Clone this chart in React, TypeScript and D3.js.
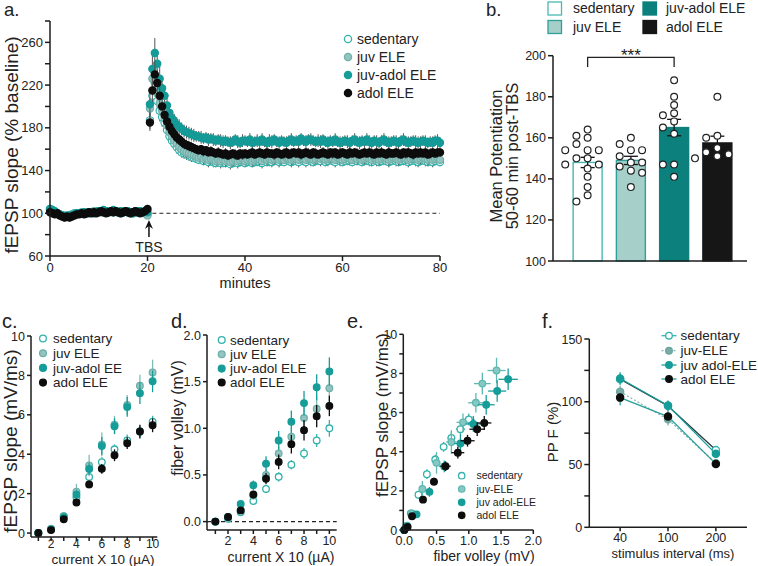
import React from 'react';
import * as d3 from 'd3';

const FONT = '"Liberation Sans", Arial, Helvetica, sans-serif';
const AX = '#1c1c1c';

// ---------------- panel a : LTP time course ----------------
const timesBase = d3.range(0, 20.001, 0.5);
const timesPost = d3.range(20.5, 80.001, 0.5);
const timesA = [...timesBase, ...timesPost];

const sedBase = [103,102,101,100,99,98,97,98,98,99, 100,99,100,100,101,100,100,101,101,102, 102,101,102,102,101,102,101,102,101,102, 101,102,101,100,101,102,101,102,101,100, 99];
const juvBase = [104,103,101,100,99,98,98,97,98,99, 99,100,100,101,100,101,100,101,102,101, 102,102,101,102,101,102,101,102,101,100, 101,102,101,101,100,101,102,101,101,100, 98];
const jaBase = [104,103,102,100,99,98,97,97,98,98, 99,100,100,100,101,100,101,101,100,101, 102,102,103,102,101,102,103,102,101,102, 101,102,102,101,100,101,102,102,101,102, 101];
const adolBase = [101,100,99,100,98,97,96,97,96,97, 98,99,99,100,99,100,101,100,101,100, 101,102,101,100,101,102,101,102,101,100, 101,102,101,100,101,102,101,100,101,102, 104];

const sedPost = [187,210,222,205,196,190,185,178,172,168, 165,162,159,157,156,155,154,153,152,151, 150,151,149,150,148,149,148,147,148,147, 148,147,148,146,147,148,147,148,149,147, 148,149,147,148,149,148,147,149,148,149, 148,149,150,148,149,148,150,149,148,149, 149,148,150,149,148,150,149,148,149,150, 149,150,148,149,150,149,148,150,149,148, 149,150,149,148,150,149,150,148,149,150, 149,148,150,149,148,149,150,149,148,149, 150,149,148,149,150,149,148,149,150,149, 148,149,150,149,148,149,148,149,150,148];
const juvPost = [198,226,228,212,203,196,189,182,176,172, 168,165,162,160,158,157,156,155,154,153, 152,153,151,152,150,151,150,149,150,149, 150,149,150,148,149,150,149,150,151,149, 150,151,149,150,151,150,149,151,150,151, 150,151,152,150,151,150,152,151,150,151, 151,150,152,151,150,152,151,150,151,152, 151,152,150,151,152,151,150,152,151,150, 151,152,151,150,152,151,152,150,151,152, 151,150,152,151,150,151,152,151,150,151, 152,151,150,151,152,151,150,151,152,151, 150,151,152,151,150,151,150,151,152,150];
const jaPost = [202,235,250,240,226,217,210,201,194,189, 186,183,181,179,177,176,175,174,173,172, 172,171,170,171,169,170,169,168,169,168, 167,168,167,166,167,169,167,166,168,168, 167,169,166,167,168,167,169,167,166,168, 167,169,167,166,168,167,166,168,169,167, 168,167,170,168,167,169,169,168,167,168, 167,169,167,166,168,167,169,167,166,167, 168,167,166,168,169,167,166,168,167,169, 167,166,168,167,166,168,169,167,166,167, 168,167,166,168,169,167,166,167,168,167, 166,167,168,167,166,167,166,168,168,166];
const adolPost = [185,215,230,222,210,200,192,186,181,177, 174,171,169,167,165,164,163,162,161,160, 159,160,158,159,157,158,157,156,157,156, 155,156,154,155,156,155,154,156,155,156, 155,156,157,155,156,157,156,155,157,156, 156,155,157,156,155,156,157,155,156,157, 156,157,155,156,157,156,155,157,156,155, 156,157,156,155,157,156,157,155,156,157, 156,155,157,156,157,156,155,156,157,156, 157,156,155,157,156,157,156,155,157,156, 156,157,156,155,157,156,157,156,155,157, 156,157,156,157,155,156,157,156,157,157];

const semBaseA = [2,2,3,2,2,2,3,2,2,2, 3,2,2,2,2,3,2,2,2,3, 2,2,2,3,2,2,2,2,3,2, 2,2,3,2,2,2,2,3,2,2, 3];
const semPostSed = [8,12,14,12,10,9,8,7,7,6, 6,6,5,5,5,5,5,5,4,4, 4,5,4,4,5,4,5,4,4,5, 5,4,4,5,4,4,5,4,5,4, 4,5,4,4,5,4,5,4,4,5, 5,4,4,5,4,4,5,4,5,4, 4,5,4,4,5,4,5,4,4,5, 5,4,4,5,4,4,5,4,5,4, 4,5,4,4,5,4,5,4,4,5, 5,4,4,5,4,4,5,4,5,4, 4,5,4,4,5,4,5,4,4,5, 5,4,4,5,4,4,5,4,5,4];
const semPostJuv = [9,11,13,12,10,9,8,7,7,6, 6,5,5,5,5,5,4,4,4,4, 4,4,5,4,4,5,4,4,5,4, 4,5,4,4,5,4,4,4,5,4, 4,4,5,4,4,5,4,4,5,4, 4,5,4,4,5,4,4,4,5,4, 4,4,5,4,4,5,4,4,5,4, 4,5,4,4,5,4,4,4,5,4, 4,4,5,4,4,5,4,4,5,4, 4,5,4,4,5,4,4,4,5,4, 4,4,5,4,4,5,4,4,5,4, 4,5,4,4,5,4,4,4,5,4];
const semPostJa = [10,13,14,13,12,11,10,9,8,8, 7,7,7,6,6,6,6,6,6,5, 5,6,5,5,6,5,6,5,5,6, 6,5,5,6,5,5,6,5,6,5, 5,6,5,5,6,5,6,5,5,6, 6,5,5,6,5,5,6,5,6,5, 5,6,5,5,6,5,6,5,5,6, 6,5,5,6,5,5,6,5,6,5, 5,6,5,5,6,5,6,5,5,6, 6,5,5,6,5,5,6,5,6,5, 5,6,5,5,6,5,6,5,5,6, 6,5,5,6,5,5,6,5,6,5];
const semPostAdol = [8,11,13,12,10,9,8,7,7,6, 6,6,5,5,5,5,5,5,4,4, 4,4,5,4,4,5,4,4,5,4, 4,5,4,4,4,5,4,4,5,4, 4,4,5,4,4,5,4,4,5,4, 4,5,4,4,4,5,4,4,5,4, 4,4,5,4,4,5,4,4,5,4, 4,5,4,4,4,5,4,4,5,4, 4,4,5,4,4,5,4,4,5,4, 4,5,4,4,4,5,4,4,5,4, 4,4,5,4,4,5,4,4,5,4, 4,5,4,4,4,5,4,4,5,4];

const yTicksA = [60, 100, 140, 180, 220, 260];
const yMinorA = [80, 120, 160, 200, 240, 280];
const xTicksA = [0, 20, 40, 60, 80];

// ---------------- panel b : bar chart ----------------
const barGroups = ['sedentary', 'juv ELE', 'juv-adol ELE', 'adol ELE'];
const barMeans = [148, 149, 165, 157.5];
const barSems = [2.5, 2, 4, 3.3];
const ptsSed = [164, 161, 160, 157, 154, 154, 154, 150, 150, 147, 147, 145, 141, 136, 132, 129];
const ptsJuv = [160, 157, 154, 154, 151, 148, 148, 146, 144, 143, 136];
const ptsJa = [188, 180, 176, 172, 171, 168, 165, 162, 147, 147, 141];
const ptsAdol = [180, 161, 160, 155, 153, 152, 151, 150];
const yTicksB = [100, 120, 140, 160, 180, 200];

// ---------------- panels c, d, e : input-output ----------------
const currents = [1, 2, 3, 4, 5, 6, 7, 8, 9, 10];
const cSed = [0, 0.2, 0.85, 1.8, 2.85, 3.6, 4.25, 4.7, 5.15, 5.65];
const cJuv = [0, 0.22, 0.85, 2.1, 3.43, 4.5, 5.5, 6.5, 7.48, 8.15];
const cJa = [0, 0.18, 0.8, 1.95, 3.25, 4.42, 5.42, 6.4, 7.1, 7.7];
const cAdol = [0, 0.15, 0.7, 1.55, 2.47, 3.26, 3.95, 4.56, 5.15, 5.47];
const cSemSed = [0.02, 0.05, 0.08, 0.2, 0.25, 0.25, 0.25, 0.3, 0.3, 0.3];
const cSemJuv = [0.02, 0.05, 0.1, 0.4, 0.55, 0.6, 0.45, 0.5, 0.55, 0.65];
const cSemJa = [0.02, 0.05, 0.1, 0.25, 0.3, 0.45, 0.4, 0.5, 0.55, 0.55];
const cSemAdol = [0.02, 0.05, 0.08, 0.15, 0.2, 0.25, 0.3, 0.3, 0.35, 0.35];

const dSed = [0, 0.03, 0.1, 0.22, 0.35, 0.48, 0.61, 0.73, 0.87, 1.0];
const dJuv = [0, 0.04, 0.12, 0.28, 0.5, 0.73, 0.91, 1.11, 1.21, 1.43];
const dJa = [0, 0.05, 0.19, 0.39, 0.62, 0.87, 1.07, 1.27, 1.44, 1.61];
const dAdol = [0, 0.05, 0.12, 0.29, 0.46, 0.64, 0.83, 0.98, 1.13, 1.24];
const dSemSed = [0.005, 0.01, 0.02, 0.03, 0.04, 0.05, 0.05, 0.06, 0.07, 0.09];
const dSemJuv = [0.005, 0.01, 0.02, 0.04, 0.06, 0.08, 0.1, 0.12, 0.13, 0.14];
const dSemJa = [0.005, 0.015, 0.025, 0.05, 0.08, 0.1, 0.12, 0.13, 0.14, 0.15];
const dSemAdol = [0.005, 0.01, 0.02, 0.04, 0.06, 0.08, 0.1, 0.11, 0.12, 0.11];

const xTicksCD = [2, 4, 6, 8, 10];
const xMinorCD = [1, 3, 5, 7, 9];
const yTicksC = [0, 2, 4, 6, 8, 10];
const yTicksD = [0, 0.5, 1, 1.5, 2];
const xTicksE = [0, 0.5, 1, 1.5, 2];
const yTicksE = [0, 2, 4, 6, 8, 10];
const yMinorE = [1, 3, 5, 7, 9];

// ---------------- panel f : paired-pulse ----------------
const intervals = ['40', '100', '200'];
const fSed = [118, 96.6, 61.5];
const fJuv = [108, 86, 51];
const fJa = [118.5, 97, 58.5];
const fAdol = [103.3, 88.2, 50.5];
const fSemSed = [4, 4, 3];
const fSemJuv = [5, 5, 3];
const fSemJa = [5, 4, 3];
const fSemAdol = [6, 5, 3];
const yTicksF = [0, 50, 100, 150];
const yMinorF = [25, 75, 125];

// ---------------- styles ----------------
const S_SED = { fill: '#ffffff', stroke: '#33b2ac', err: '#33b2ac' };
const S_JUV = { fill: '#93c4bf', stroke: '#6eb0aa', err: '#7fbdb7' };
const S_JA = { fill: '#169d99', stroke: '#169d99', err: '#169d99' };
const S_ADOL = { fill: '#0d0d0d', stroke: '#0d0d0d', err: '#0d0d0d' };

// ---------------- helpers ----------------
function AxisLeft({ scale, x, ticks, minor = [], fmt = (d: number) => String(d), fs = 12.5, len = 5, y0 = null, y1 = null }: any) {
  const r = scale.range();
  const top = y0 ?? Math.min(r[0], r[1]);
  const bot = y1 ?? Math.max(r[0], r[1]);
  return (
    <g>
      <line x1={x} x2={x} y1={top} y2={bot} stroke={AX} strokeWidth={1.5} />
      {ticks.map((t: number) => (
        <g key={'t' + t}>
          <line x1={x - len} x2={x} y1={scale(t)} y2={scale(t)} stroke={AX} strokeWidth={1.5} />
          <text x={x - len - 2} y={scale(t)} dy="0.36em" textAnchor="end" fontSize={fs} fill="#222">{fmt(t)}</text>
        </g>
      ))}
      {minor.map((t: number) => (
        <line key={'m' + t} x1={x - len} x2={x} y1={scale(t)} y2={scale(t)} stroke={AX} strokeWidth={1.5} />
      ))}
    </g>
  );
}

function AxisBottom({ scale, y, ticks, minor = [], fmt = (d: any) => String(d), fs = 12.5, len = 5, x0 = null, x1 = null, labelDy = 14 }: any) {
  const r = scale.range();
  const left = x0 ?? Math.min(r[0], r[1]);
  const right = x1 ?? Math.max(r[0], r[1]);
  return (
    <g>
      <line x1={left} x2={right} y1={y} y2={y} stroke={AX} strokeWidth={1.5} />
      {ticks.map((t: any) => (
        <g key={'t' + t}>
          <line x1={scale(t)} x2={scale(t)} y1={y} y2={y + len} stroke={AX} strokeWidth={1.5} />
          <text x={scale(t)} y={y + len + labelDy} textAnchor="middle" fontSize={fs} fill="#222">{fmt(t)}</text>
        </g>
      ))}
      {minor.map((t: any) => (
        <line key={'m' + t} x1={scale(t)} x2={scale(t)} y1={y} y2={y + len} stroke={AX} strokeWidth={1.5} />
      ))}
    </g>
  );
}

function VLabel({ x, y, text, fs }: any) {
  return (
    <text transform={`translate(${x},${y}) rotate(-90)`} textAnchor="middle" fontSize={fs} fill="#222">{text}</text>
  );
}

function Legend({ x, tx, ys, names, styles, fs, r = 3.4 }: any) {
  return (
    <g>
      {names.map((n: string, i: number) => (
        <g key={n}>
          <circle cx={x} cy={ys[i]} r={r} fill={styles[i].fill} stroke={styles[i].stroke} strokeWidth={1.3} />
          <text x={tx} y={ys[i]} dy="0.35em" fontSize={fs} fill="#222">{n}</text>
        </g>
      ))}
    </g>
  );
}

// ---------------- panel a ----------------
function PanelA() {
  const xA = d3.scaleLinear().domain([0, 80]).range([50, 440]);
  const yA = d3.scaleLinear().domain([60, 280]).range([256, 21]);
  const series = [
    { v: [...sedBase, ...sedPost], e: [...semBaseA, ...semPostSed], s: S_SED },
    { v: [...juvBase, ...juvPost], e: [...semBaseA, ...semPostJuv], s: S_JUV },
    { v: [...jaBase, ...jaPost], e: [...semBaseA, ...semPostJa], s: { ...S_JA, fill: '#149a97', stroke: '#149a97' } },
    { v: [...adolBase, ...adolPost], e: [...semBaseA, ...semPostAdol], s: S_ADOL },
  ];
  return (
    <g>
      <text x={4} y={16} fontSize={18.5} fill="#222">a.</text>
      <line x1={xA(21)} x2={xA(80)} y1={yA(100)} y2={yA(100)} stroke="#222" strokeWidth={1} strokeDasharray="4,3" />
      {series.map((sr, k) => (
        <g key={k}>
          {timesA.map((t, i) => (
            <line key={i} x1={xA(t)} x2={xA(t)} y1={yA(sr.v[i] - sr.e[i])} y2={yA(sr.v[i] + sr.e[i])} stroke="#555" strokeWidth={1} />
          ))}
          {timesA.map((t, i) => (
            <circle key={'c' + i} cx={xA(t)} cy={yA(sr.v[i])} r={3.6} fill={sr.s.fill} stroke={sr.s.stroke} strokeWidth={1.2} />
          ))}
        </g>
      ))}
      <AxisLeft scale={yA} x={50} ticks={yTicksA} minor={yMinorA} fs={13} />
      <AxisBottom scale={xA} y={256} ticks={xTicksA} fs={13} labelDy={11} />
      <text x={245} y={288} textAnchor="middle" fontSize={14.5} fill="#222">minutes</text>
      <VLabel x={18} y={145} text="fEPSP  slope (% baseline)" fs={19} />
      <line x1={xA(20.3)} x2={xA(20.3)} y1={237} y2={225} stroke="#111" strokeWidth={1.5} />
      <path d={`M${xA(20.3)},220 L${xA(20.3) - 4},229 L${xA(20.3)},226 L${xA(20.3) + 4},229 Z`} fill="#111" />
      <text x={xA(20.3)} y={252} textAnchor="middle" fontSize={14} fill="#222">TBS</text>
      <Legend x={348} tx={357} ys={[39, 57, 75, 93]} names={['sedentary', 'juv ELE', 'juv-adol ELE', 'adol ELE']}
        styles={[S_SED, S_JUV, S_JA, S_ADOL]} fs={14} r={3.6} />
    </g>
  );
}

// ---------------- panel b ----------------
function swarm(vals: number[], yS: any, cx: number, r: number) {
  const placed: { x: number; y: number }[] = [];
  const sorted = [...vals].sort((a, b) => b - a);
  const step = 11.2;
  for (const v of sorted) {
    const y = yS(v);
    for (let k = 0; k < 20; k++) {
      const off = k === 0 ? 0 : (k % 2 === 1 ? -Math.ceil(k / 2) * step : Math.ceil(k / 2) * step);
      const x = cx + off;
      if (placed.every(p => Math.hypot(p.x - x, p.y - y) >= 2 * r)) { placed.push({ x, y }); break; }
    }
  }
  return placed;
}

function PanelB() {
  const xB = d3.scaleBand().domain(barGroups).range([566, 739]).paddingInner(0.33).paddingOuter(0.165);
  const yB = d3.scaleLinear().domain([100, 200]).range([261, 55.7]);
  const fills = ['#ffffff', '#a7cfc9', '#0c807c', '#161616'];
  const strokes = ['#4ab8b2', '#2f9f99', '#0c807c', '#161616'];
  const pts = [ptsSed, ptsJuv, ptsJa, ptsAdol];
  const bw = xB.bandwidth();
  const cxs = barGroups.map(g => (xB(g) as number) + bw / 2);
  const order = [0, 2, 1, 3];
  return (
    <g>
      <text x={486} y={16} fontSize={18.5} fill="#222">b.</text>
      {order.map((gi, i) => {
        const lx = i % 2 === 0 ? 548 : 643;
        const yy = i < 2 ? 8.5 : 27;
        return (
          <g key={i}>
            <rect x={lx} y={yy - 6.5} width={13.5} height={13} fill={fills[gi]} stroke={strokes[gi]} strokeWidth={1.3} />
            <text x={lx + (i % 2 === 0 ? 25 : 23)} y={yy} dy="0.35em" fontSize={14} fill="#222">{barGroups[gi]}</text>
          </g>
        );
      })}
      {barGroups.map((g, i) => (
        <rect key={g} x={xB(g)} y={yB(barMeans[i])} width={bw} height={yB(100) - yB(barMeans[i])}
          fill={fills[i]} stroke={strokes[i]} strokeWidth={1.4} />
      ))}
      {barGroups.map((g, i) => (
        <g key={'e' + g}>
          <line x1={cxs[i]} x2={cxs[i]} y1={yB(barMeans[i] - barSems[i])} y2={yB(barMeans[i] + barSems[i])} stroke="#111" strokeWidth={1.3} />
          <line x1={cxs[i] - 7} x2={cxs[i] + 7} y1={yB(barMeans[i] + barSems[i])} y2={yB(barMeans[i] + barSems[i])} stroke="#111" strokeWidth={1.3} />
          <line x1={cxs[i] - 7} x2={cxs[i] + 7} y1={yB(barMeans[i] - barSems[i])} y2={yB(barMeans[i] - barSems[i])} stroke="#111" strokeWidth={1.3} />
        </g>
      ))}
      {pts.map((arr, i) => swarm(arr, yB, cxs[i], 3.4).map((p, j) => (
        <circle key={i + '-' + j} cx={p.x} cy={p.y} r={3.4} fill="#fff" stroke="#222" strokeWidth={1.2} />
      )))}
      <AxisLeft scale={yB} x={553} ticks={yTicksB} fs={12.5} len={5} />
      <line x1={553} x2={747} y1={261} y2={261} stroke={AX} strokeWidth={1.5} />
      <path d={`M${cxs[0]},67 L${cxs[0]},57.3 L${cxs[2]},57.3 L${cxs[2]},67`} fill="none" stroke="#222" strokeWidth={1.3} />
      <text x={(cxs[0] + cxs[2]) / 2} y={61} textAnchor="middle" fontSize={17} fill="#222">***</text>
      <VLabel x={502} y={156} text="Mean Potentiation" fs={16.5} />
      <VLabel x={518} y={156} text="50-60 min post-TBS" fs={16.5} />
    </g>
  );
}

// ---------------- panels c-e ----------------
function XYSeries({ xs, ys, eys, exs = null, xS, yS, sty, r = 3.3 }: any) {
  return (
    <g>
      {xs.map((x: number, i: number) => (
        <g key={'e' + i}>
          <line x1={xS(x)} x2={xS(x)} y1={yS(ys[i] - eys[i])} y2={yS(ys[i] + eys[i])} stroke={sty.err} strokeWidth={1.3} />
          {exs && <line x1={xS(x - exs[i])} x2={xS(x + exs[i])} y1={yS(ys[i])} y2={yS(ys[i])} stroke={sty.err} strokeWidth={1.3} />}
        </g>
      ))}
      {xs.map((x: number, i: number) => (
        <circle key={i} cx={xS(x)} cy={yS(ys[i])} r={r} fill={sty.fill} stroke={sty.stroke} strokeWidth={1.3} />
      ))}
    </g>
  );
}

function PanelC() {
  const xS = d3.scaleLinear().domain([0.42, 10.37]).range([31, 157.3]);
  const yS = d3.scaleLinear().domain([-0.2, 10]).range([537, 336]);
  return (
    <g>
      <text x={2} y={328} fontSize={20} fill="#222">c.</text>
      <XYSeries xs={currents} ys={cSed} eys={cSemSed} xS={xS} yS={yS} sty={S_SED} />
      <XYSeries xs={currents} ys={cJuv} eys={cSemJuv} xS={xS} yS={yS} sty={S_JUV} />
      <XYSeries xs={currents} ys={cJa} eys={cSemJa} xS={xS} yS={yS} sty={S_JA} />
      <XYSeries xs={currents} ys={cAdol} eys={cSemAdol} xS={xS} yS={yS} sty={S_ADOL} />
      <AxisLeft scale={yS} x={31} ticks={yTicksC} fs={12.5} len={4} y0={yS(10)} />
      <AxisBottom scale={xS} y={537} ticks={xTicksCD} minor={xMinorCD} fs={12} len={4} labelDy={7} />
      <text x={103} y={564} textAnchor="middle" fontSize={13.5} fill="#222">current X 10 (µA)</text>
      <VLabel x={17} y={441} text="fEPSP slope (mV/ms)" fs={19} />
      <Legend x={43} tx={53} ys={[338.5, 353.2, 367.9, 382.6]} names={['sedentary', 'juv ELE', 'juv-adol EE', 'adol ELE']}
        styles={[S_SED, S_JUV, S_JA, S_ADOL]} fs={13.5} r={3.4} />
    </g>
  );
}

function PanelD() {
  const xS = d3.scaleLinear().domain([0.34, 10.58]).range([207, 336.7]);
  const yS = d3.scaleLinear().domain([-0.09, 2]).range([530, 335]);
  return (
    <g>
      <text x={171} y={328} fontSize={20} fill="#222">d.</text>
      <line x1={207} x2={336.7} y1={yS(0)} y2={yS(0)} stroke="#222" strokeWidth={1.2} strokeDasharray="4,3" />
      <XYSeries xs={currents} ys={dSed} eys={dSemSed} xS={xS} yS={yS} sty={S_SED} />
      <XYSeries xs={currents} ys={dJuv} eys={dSemJuv} xS={xS} yS={yS} sty={S_JUV} />
      <XYSeries xs={currents} ys={dJa} eys={dSemJa} xS={xS} yS={yS} sty={S_JA} />
      <XYSeries xs={currents} ys={dAdol} eys={dSemAdol} xS={xS} yS={yS} sty={S_ADOL} />
      <AxisLeft scale={yS} x={207} ticks={yTicksD} fmt={(d: number) => d.toFixed(1)} fs={12.5} len={4} y0={yS(2)} />
      <AxisBottom scale={xS} y={530} ticks={xTicksCD} minor={xMinorCD} fs={12.5} len={4} labelDy={11} />
      <text x={281} y={561.5} textAnchor="middle" fontSize={14} fill="#222">current X 10 (µA)</text>
      <VLabel x={183} y={418} text="fiber volley (mV)" fs={16} />
      <Legend x={221.7} tx={230} ys={[340, 354.3, 368.6, 382.5]} names={['sedentary', 'juv ELE', 'juv-adol ELE', 'adol ELE']}
        styles={[S_SED, S_JUV, S_JA, S_ADOL]} fs={13.5} r={3.4} />
    </g>
  );
}

function PanelE() {
  const xS = d3.scaleLinear().domain([0, 2]).range([404.3, 533.3]);
  const yS = d3.scaleLinear().domain([0, 10]).range([530, 334.3]);
  const sJuvE = { fill: '#86c9c3', stroke: '#5fb8b1', err: '#5fb8b1' };
  return (
    <g>
      <text x={347} y={328} fontSize={20} fill="#222">e.</text>
      <XYSeries xs={dSed} ys={cSed} eys={cSemSed} exs={dSemSed} xS={xS} yS={yS} sty={S_SED} />
      <XYSeries xs={dJuv} ys={cJuv} eys={cSemJuv} exs={dSemJuv} xS={xS} yS={yS} sty={sJuvE} />
      <XYSeries xs={dJa} ys={cJa} eys={cSemJa} exs={dSemJa} xS={xS} yS={yS} sty={S_JA} />
      <XYSeries xs={dAdol} ys={cAdol} eys={cSemAdol} exs={dSemAdol} xS={xS} yS={yS} sty={S_ADOL} />
      <AxisLeft scale={yS} x={403.3} ticks={yTicksE} minor={yMinorE} fs={12.5} len={4} />
      <AxisBottom scale={xS} y={530} ticks={xTicksE} fmt={(d: number) => d.toFixed(1)} fs={12.5} len={4} labelDy={11} x0={403.3} />
      <text x={484} y={561} textAnchor="middle" fontSize={14} fill="#222">fiber volley (mV)</text>
      <VLabel x={388} y={415} text="fEPSP slope (mV/ms)" fs={17} />
      <Legend x={461.7} tx={476.5} ys={[475.7, 489, 502.3, 515.3]} names={['sedentary', 'juv-ELE', 'juv adol-ELE', 'adol ELE']}
        styles={[S_SED, sJuvE, S_JA, S_ADOL]} fs={10.5} r={3.2} />
    </g>
  );
}

function PanelF() {
  const xS = d3.scalePoint().domain(intervals).range([589, 747]).padding(0.65);
  const yS = d3.scaleLinear().domain([0, 150]).range([527.3, 339]);
  const sJuvF = { fill: '#78aca6', stroke: '#6aa59f', err: '#7fb5b0' };
  const sAdolF = { ...S_ADOL, err: '#2a9f9a' };
  const series = [
    { v: fSed, e: fSemSed, s: S_SED, line: '#2a3a3a', dash: null, name: 'sedentary', lc: '#33b2ac' },
    { v: fJuv, e: fSemJuv, s: sJuvF, line: '#7fb5b0', dash: '2,2', name: 'juv-ELE', lc: '#7fb5b0' },
    { v: fJa, e: fSemJa, s: S_JA, line: '#169d99', dash: null, name: 'juv adol-ELE', lc: '#169d99' },
    { v: fAdol, e: fSemAdol, s: sAdolF, line: '#2a9f9a', dash: null, name: 'adol ELE', lc: '#2a9f9a' },
  ];
  const lineGen = (vals: number[]) => d3.line<number>().x((_, i) => xS(intervals[i]) as number).y(d => yS(d))(vals) as string;
  const lys = [335.7, 350.7, 365, 379];
  return (
    <g>
      <text x={542} y={328} fontSize={20} fill="#222">f.</text>
      {series.map((sr, k) => (
        <g key={k}>
          <path d={lineGen(sr.v)} fill="none" stroke={sr.line} strokeWidth={1.3} strokeDasharray={sr.dash ?? undefined} />
          {intervals.map((iv, i) => (
            <line key={i} x1={xS(iv)} x2={xS(iv)} y1={yS(sr.v[i] - sr.e[i])} y2={yS(sr.v[i] + sr.e[i])} stroke={sr.s.err} strokeWidth={1.3} />
          ))}
        </g>
      ))}
      {series.map((sr, k) => (
        <g key={'p' + k}>
          {intervals.map((iv, i) => (
            <circle key={i} cx={xS(iv)} cy={yS(sr.v[i])} r={3.6} fill={sr.s.fill} stroke={sr.s.stroke} strokeWidth={1.3} />
          ))}
        </g>
      ))}
      <AxisLeft scale={yS} x={589.3} ticks={yTicksF} minor={yMinorF} fs={12.5} len={5} />
      <AxisBottom scale={xS} y={527.3} ticks={intervals} fs={12.5} len={4} labelDy={11} x0={589.3} x1={747} />
      <text x={673} y={558} textAnchor="middle" fontSize={13} fill="#222">stimulus interval (ms)</text>
      <VLabel x={558} y={432} text="PP F  (%)" fs={15} />
      {series.map((sr, k) => (
        <g key={'l' + k}>
          <line x1={661.5} x2={676.5} y1={lys[k]} y2={lys[k]} stroke={sr.lc} strokeWidth={1.3} strokeDasharray={sr.dash ?? undefined} />
          <circle cx={669} cy={lys[k]} r={3.3} fill={sr.s.fill} stroke={sr.s.stroke} strokeWidth={1.3} />
          <text x={680.5} y={lys[k]} dy="0.35em" fontSize={13.5} fill="#222">{sr.name}</text>
        </g>
      ))}
    </g>
  );
}

export default function App() {
  return (
    <svg width={758} height={566} viewBox="0 0 758 566"
      style={{ position: 'absolute', left: 0, top: 0, fontFamily: FONT, background: '#fff' }}>
      <rect x={0} y={0} width={758} height={566} fill="#fff" />
      <PanelA />
      <PanelB />
      <PanelC />
      <PanelD />
      <PanelE />
      <PanelF />
    </svg>
  );
}
